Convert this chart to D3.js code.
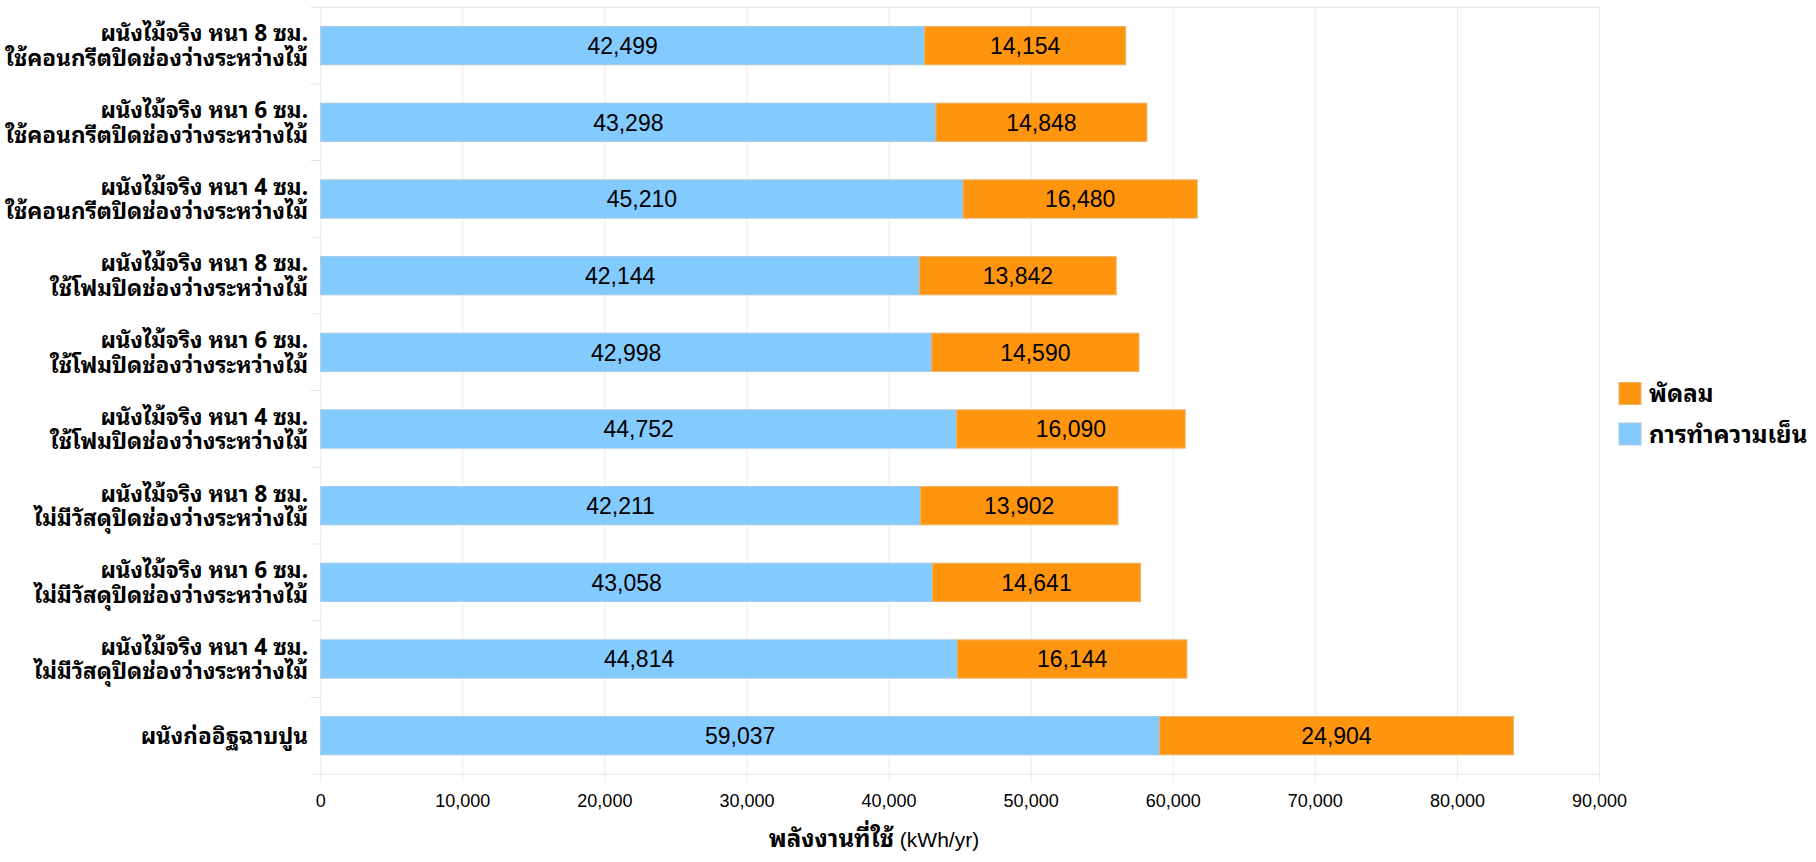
<!DOCTYPE html>
<html>
<head>
<meta charset="utf-8">
<script src="https://cdn.jsdelivr.net/npm/d3@7"></script>
<style>
  html, body { margin: 0; padding: 0; background: #fff; }
  svg { display: block; }
  text { font-family: "Liberation Sans", Arial, "Noto Sans", sans-serif; fill: #000; }
</style>
</head>
<body>
<svg id="chart" width="1816" height="862"></svg>
<script>
// Wall types (two-line labels) from top to bottom
const categories = [
  ["ผนังไม้จริง หนา 8 ซม.", "ใช้คอนกรีตปิดช่องว่างระหว่างไม้"],
  ["ผนังไม้จริง หนา 6 ซม.", "ใช้คอนกรีตปิดช่องว่างระหว่างไม้"],
  ["ผนังไม้จริง หนา 4 ซม.", "ใช้คอนกรีตปิดช่องว่างระหว่างไม้"],
  ["ผนังไม้จริง หนา 8 ซม.", "ใช้โฟมปิดช่องว่างระหว่างไม้"],
  ["ผนังไม้จริง หนา 6 ซม.", "ใช้โฟมปิดช่องว่างระหว่างไม้"],
  ["ผนังไม้จริง หนา 4 ซม.", "ใช้โฟมปิดช่องว่างระหว่างไม้"],
  ["ผนังไม้จริง หนา 8 ซม.", "ไม่มีวัสดุปิดช่องว่างระหว่างไม้"],
  ["ผนังไม้จริง หนา 6 ซม.", "ไม่มีวัสดุปิดช่องว่างระหว่างไม้"],
  ["ผนังไม้จริง หนา 4 ซม.", "ไม่มีวัสดุปิดช่องว่างระหว่างไม้"],
  ["ผนังก่ออิฐฉาบปูน"]
];

// Annual energy use (kWh/yr)
const cooling = [42499, 43298, 45210, 42144, 42998, 44752, 42211, 43058, 44814, 59037];
const fan     = [14154, 14848, 16480, 13842, 14590, 16090, 13902, 14641, 16144, 24904];

const seriesNames = ["การทำความเย็น", "พัดลม"];
const seriesColors = ["#83caff", "#ff950e"];
const legendOrder = [1, 0];

const xTicks = [0, 10000, 20000, 30000, 40000, 50000, 60000, 70000, 80000, 90000];
const axisTitleBold = "พลังงานที่ใช้";
const axisTitleUnit = " (kWh/yr)";

const svg = d3.select("#chart");
const plot = { left: 320.7, right: 1599.5, top: 7.3, bottom: 774 };

const x = d3.scaleLinear().domain([0, 90000]).range([plot.left, plot.right]);
const y = d3.scaleBand().domain(d3.range(categories.length))
  .range([plot.top, plot.bottom]).paddingInner(0.5).paddingOuter(0.25);
const yBand = d3.scaleBand().domain(d3.range(categories.length)).range([plot.top, plot.bottom]);

const fmt = d3.format(",");
const thaiFont = "'Noto Sans Thai Looped', Loma, Garuda, Tahoma, 'Noto Sans Thai', 'Liberation Sans', sans-serif";

// Vertical grid lines + tick marks under the plot
svg.append("g").selectAll("line").data(xTicks).join("line")
  .attr("x1", d => x(d)).attr("x2", d => x(d))
  .attr("y1", plot.top).attr("y2", plot.bottom + 8)
  .attr("stroke", "#ececec").attr("stroke-width", 1);

// Category boundaries with short outer ticks
const bounds = d3.range(categories.length + 1).map(i => plot.top + i * yBand.step());
svg.append("g").selectAll("line").data(bounds).join("line")
  .attr("x1", plot.left - 10).attr("x2", (d, i) => (i === 0 || i === categories.length) ? plot.right : plot.left)
  .attr("y1", d => d).attr("y2", d => d)
  .attr("stroke", "#e4e4e4").attr("stroke-width", 1);

// Stacked bars
const stackData = categories.map((c, i) => ({ i, cooling: cooling[i], fan: fan[i] }));
const stacked = d3.stack().keys(["cooling", "fan"])(stackData);

const layers = svg.append("g").selectAll("g").data(stacked).join("g")
  .attr("fill", (d, k) => seriesColors[k]);

layers.selectAll("rect").data(d => d).join("rect")
  .attr("x", d => x(d[0]))
  .attr("y", d => y(d.data.i))
  .attr("width", d => x(d[1]) - x(d[0]))
  .attr("height", y.bandwidth())
  .attr("stroke", (d, k, nodes) => d3.select(nodes[k].parentNode).datum().key === "fan" ? "#e9b46a" : "#a9c9e2")
  .attr("stroke-width", 1);

// Value labels centred in each segment
layers.selectAll("text").data(d => d).join("text")
  .attr("x", d => (x(d[0]) + x(d[1])) / 2)
  .attr("y", d => y(d.data.i) + y.bandwidth() / 2)
  .attr("dy", "0.36em")
  .attr("text-anchor", "middle")
  .attr("font-size", 23)
  .attr("fill", "#000")
  .text(d => fmt(d[1] - d[0]));

// X axis tick labels
svg.append("g").selectAll("text").data(xTicks).join("text")
  .attr("x", d => x(d)).attr("y", 806.5)
  .attr("text-anchor", "middle").attr("font-size", 18)
  .text(d => fmt(d));

// X axis title
const title = svg.append("text")
  .attr("x", 874).attr("y", 847)
  .attr("text-anchor", "middle").attr("font-size", 24);
title.append("tspan").attr("font-weight", "bold").style("font-family", thaiFont).text(axisTitleBold);
title.append("tspan").attr("font-size", 21).text(axisTitleUnit);

// Category labels
const catG = svg.append("g");
categories.forEach((lines, i) => {
  const cy = yBand(i) + yBand.bandwidth() / 2;
  const lh = 24.5;
  lines.forEach((ln, j) => {
    catG.append("text")
      .attr("text-anchor", "end")
      .attr("font-weight", "bold")
      .attr("font-size", 22.5)
      .style("font-family", thaiFont)
      .attr("x", 308)
      .attr("y", cy + (j - (lines.length - 1) / 2) * lh)
      .attr("dy", "0.36em")
      .text(ln);
  });
});

// Legend
const legend = svg.append("g");
legendOrder.forEach((k, j) => {
  const ly = 393.5 + j * 40.5;
  legend.append("rect")
    .attr("x", 1619).attr("y", ly - 11)
    .attr("width", 22).attr("height", 22)
    .attr("fill", seriesColors[k])
    .attr("stroke", k === 1 ? "#e9b46a" : "#a9c9e2");
  legend.append("text")
    .attr("x", 1649).attr("y", ly).attr("dy", "0.36em")
    .attr("font-weight", "bold").attr("font-size", 24)
    .style("font-family", thaiFont)
    .text(seriesNames[k]);
});
</script>
</body>
</html>
